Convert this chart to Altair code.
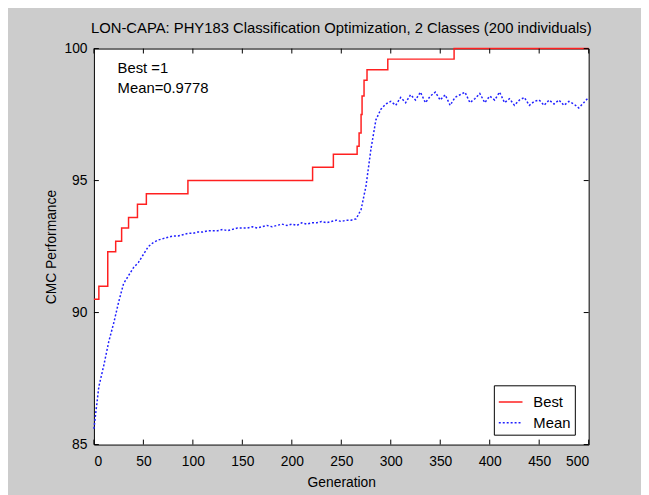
import altair as alt
import pandas as pd

# ---- data ----
best_gen = [0, 5, 14, 22, 28, 35, 44, 53, 95, 221, 242, 266, 268, 270, 271, 273, 276, 297, 364, 500]
best_val = [90.5, 91.0, 92.3, 92.7, 93.2, 93.6, 94.1, 94.5, 95.0, 95.5, 96.0, 96.3, 96.8, 97.5,
            98.2, 98.8, 99.2, 99.6, 100.0, 100.0]

mean_gen = list(range(0, 505, 5))
mean_val = [85.6, 87.2, 88.0, 88.9, 89.6, 90.4, 91.1, 91.4, 91.7, 91.9,
            92.2, 92.5, 92.65, 92.75, 92.8, 92.85, 92.9, 92.9, 92.95, 93.0,
            93.0, 93.05, 93.05, 93.1, 93.1, 93.1, 93.15, 93.1, 93.15, 93.2,
            93.2, 93.2, 93.25, 93.2, 93.25, 93.3, 93.25, 93.3, 93.35, 93.3,
            93.35, 93.3, 93.4, 93.35, 93.4, 93.4, 93.45, 93.4, 93.45, 93.5,
            93.45, 93.5, 93.5, 93.55, 93.9, 94.8, 96.2, 97.3, 97.7, 97.9,
            98.0, 97.85, 98.15, 97.95, 98.25, 98.05, 98.35, 97.95, 98.2, 98.35,
            98.05, 98.25, 97.85, 98.15, 98.25, 98.35, 97.95, 98.1, 98.3, 97.95,
            98.2, 98.05, 98.35, 97.95, 98.1, 97.85, 98.05, 98.15, 97.85, 98.0,
            98.05, 97.85, 98.05, 97.9, 98.05, 97.85, 98.0, 97.9, 97.75, 97.95,
            98.15]

x_ticks = [0, 50, 100, 150, 200, 250, 300, 350, 400, 450, 500]
y_ticks = [85, 90, 95, 100]
series_names = ["Best", "Mean"]
title_text = "LON-CAPA: PHY183 Classification Optimization, 2 Classes (200 individuals)"
note_lines = ["Best =1", "Mean=0.9778"]

W, H = 501, 401
FONT = "Liberation Sans"

df = pd.concat([
    pd.DataFrame({"gen": best_gen, "val": best_val, "series": "Best"}),
    pd.DataFrame({"gen": mean_gen, "val": mean_val, "series": "Mean"}),
])

xs = alt.Scale(domain=[0, 500], nice=False, zero=False)
ys = alt.Scale(domain=[85, 100], nice=False, zero=False)

x_axis = alt.Axis(values=x_ticks, title="Generation", grid=False, tickSize=0, domain=False,
                  labelPadding=10, titlePadding=7, labelFont=FONT, titleFont=FONT,
                  labelFontSize=14, titleFontSize=14, titleFontWeight="normal",
                  labelColor="black", titleColor="black")
y_axis = alt.Axis(values=y_ticks, title="CMC Performance", grid=False, tickSize=0, domain=False,
                  labelPadding=7, titlePadding=6, labelFont=FONT, titleFont=FONT,
                  labelFontSize=14, titleFontSize=14, titleFontWeight="normal",
                  labelColor="black", titleColor="black")

color = alt.Color("series:N", scale=alt.Scale(domain=series_names, range=["#ff2020", "#2020ff"]),
                  legend=alt.Legend(title=None, orient="none", legendX=405, legendY=341,
                                    symbolType="stroke", symbolSize=576, symbolStrokeWidth=1.5,
                                    labelFont=FONT, labelFontSize=15, labelColor="black",
                                    labelOffset=10, padding=4, rowPadding=0,
                                    strokeColor="black", fillColor="white"))
dash = alt.StrokeDash("series:N", scale=alt.Scale(domain=series_names, range=[[1, 0], [2, 2]]),
                      legend=None)

best = alt.Chart(df).transform_filter(alt.datum.series == "Best").mark_line(
    interpolate="step-after", strokeWidth=1.5).encode(
    x=alt.X("gen:Q", scale=xs, axis=x_axis),
    y=alt.Y("val:Q", scale=ys, axis=y_axis),
    color=color, strokeDash=dash)

mean = alt.Chart(df).transform_filter(alt.datum.series == "Mean").mark_line(
    strokeWidth=1.5).encode(
    x=alt.X("gen:Q", scale=xs),
    y=alt.Y("val:Q", scale=ys),
    color=color, strokeDash=dash)

xt = pd.DataFrame({"t": x_ticks})
yt = pd.DataFrame({"t": y_ticks})
tick_bot = alt.Chart(xt).mark_rule(color="black").encode(
    x=alt.X("t:Q", scale=xs), y=alt.value(H), y2=alt.value(H - 5))
tick_top = alt.Chart(xt).mark_rule(color="black").encode(
    x=alt.X("t:Q", scale=xs), y=alt.value(0), y2=alt.value(5))
tick_l = alt.Chart(yt).mark_rule(color="black").encode(
    y=alt.Y("t:Q", scale=ys), x=alt.value(0), x2=alt.value(5))
tick_r = alt.Chart(yt).mark_rule(color="black").encode(
    y=alt.Y("t:Q", scale=ys), x=alt.value(W), x2=alt.value(W - 5))

note1 = alt.Chart().mark_text(text=note_lines[0], align="left", baseline="middle",
                              font=FONT, fontSize=15, color="black").encode(
    x=alt.value(24), y=alt.value(20))
note2 = alt.Chart().mark_text(text=note_lines[1], align="left", baseline="middle",
                              font=FONT, fontSize=15, color="black").encode(
    x=alt.value(24), y=alt.value(40))

chart = alt.layer(best, mean, tick_bot, tick_top, tick_l, tick_r, note1, note2).properties(
    width=W, height=H,
    title=alt.TitleParams(title_text, font=FONT, fontSize=15, fontWeight="normal",
                          color="black", offset=6),
    autosize=alt.AutoSizeParams(type="none"),
    padding={"left": 87, "top": 38, "right": 53, "bottom": 48},
    background="#cccccc",
).configure_view(stroke="black", strokeWidth=1, fill="white")

chart.save("out.html", embed_options={"renderer": "svg", "actions": False})
